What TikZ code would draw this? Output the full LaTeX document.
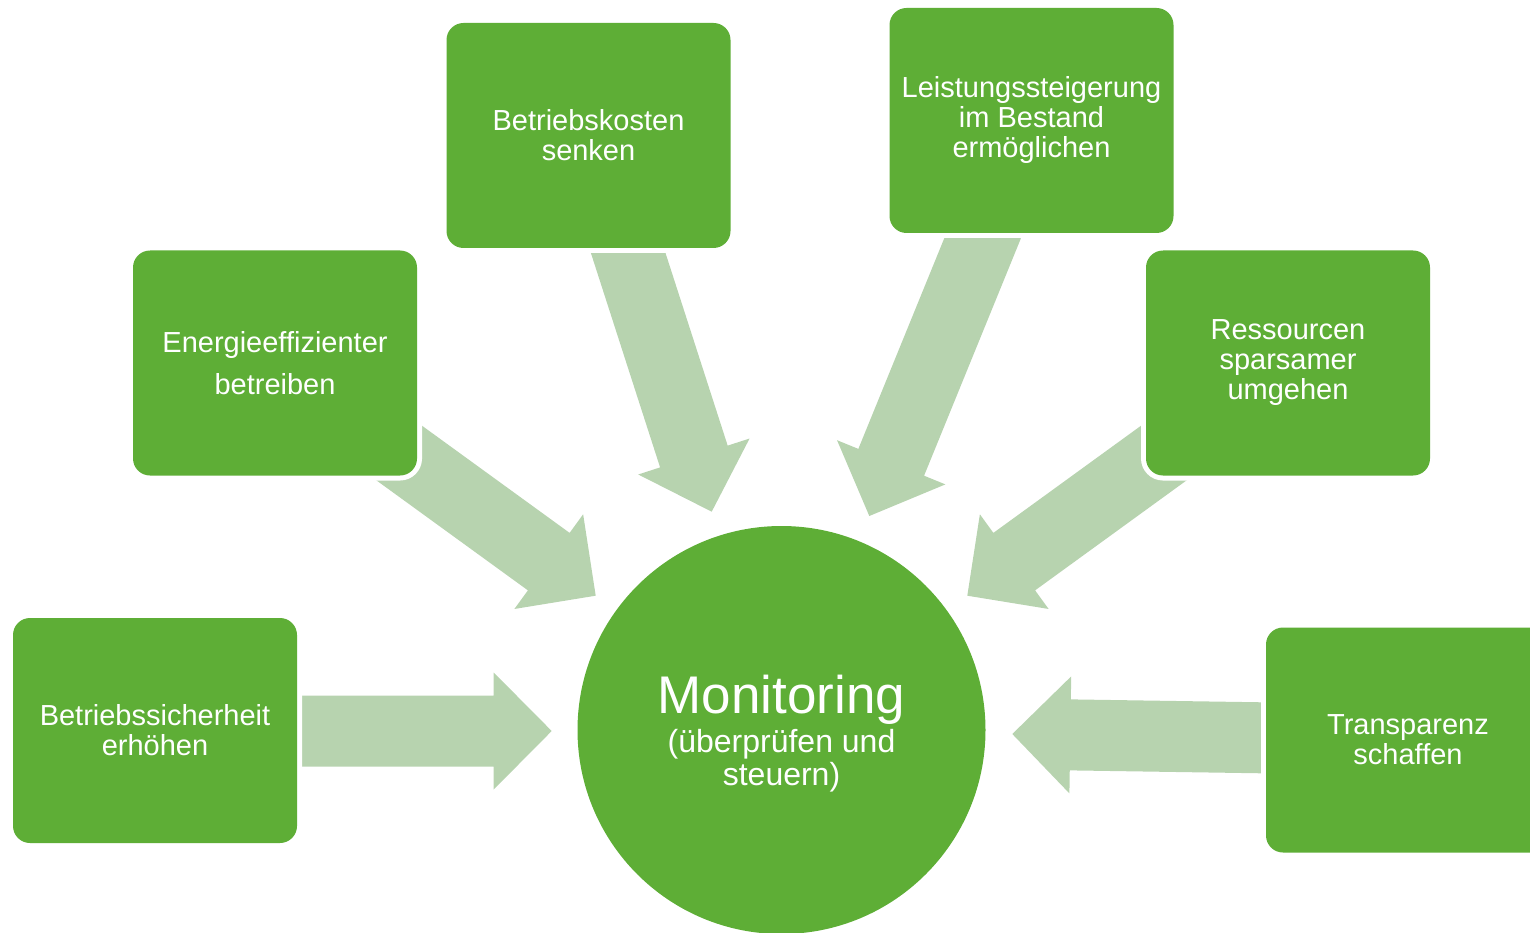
\documentclass[tikz,border=0pt]{standalone}
\usepackage{fontspec}
\setmainfont{Liberation Sans}
\usetikzlibrary{calc}
\definecolor{boxgreen}{HTML}{5EAE36}
\definecolor{arrowgreen}{HTML}{B7D3AF}
\newcommand{\blockarrow}[3]{%
  \coordinate (#1h) at ($(#3)!58pt!(#2)$);
  \fill[arrowgreen] ($(#2)!35.5pt!90:(#3)$) -- ($(#1h)!35.5pt!90:(#3)$) -- ($(#1h)!58.5pt!90:(#3)$) -- (#3) -- ($(#1h)!58.5pt!-90:(#3)$) -- ($(#1h)!35.5pt!-90:(#3)$) -- ($(#2)!35.5pt!-90:(#3)$) -- cycle;
}
\begin{document}
\begin{tikzpicture}[x=1pt,y=-1pt,
  goal/.style={fill=boxgreen, rounded corners=17pt, preaction={draw=white, line width=10pt},
    minimum width=284pt, minimum height=225pt, inner sep=0pt, text=white, align=center,
    font=\fontsize{29}{30}\selectfont},
  montext/.style={anchor=base, text=white, inner sep=0pt}]
\useasboundingbox (0,0) rectangle (1530,933);

% arrow end points
\coordinate (aT) at (384,442);   \coordinate (aP) at (595.7,595.7);
\coordinate (bT) at (624,240);   \coordinate (bP) at (711.7,511.7);
\coordinate (cT) at (988,225);   \coordinate (cP) at (869.3,516);
\coordinate (dT) at (1179,442);  \coordinate (dP) at (967.3,595.7);
\coordinate (eT) at (290,731);   \coordinate (eP) at (551.7,731);
\coordinate (fT) at (1275,738);  \coordinate (fP) at (1012.3,734);

\blockarrow{a}{aT}{aP}
\blockarrow{b}{bT}{bP}
\blockarrow{c}{cT}{cP}
\blockarrow{d}{dT}{dP}
\blockarrow{e}{eT}{eP}
\blockarrow{f}{fT}{fP}

% goal boxes
\node[goal] (bk) at (588.5,135.5) {Betriebskosten\\senken};
\node[goal] (ls) at (1031.5,120.5) {Leistungssteigerung\\im Bestand\\ermöglichen};
\node[goal] (ee) at (275,363) {Energieeffizienter\\[12pt]betreiben};
\node[goal] (rs) at (1288,363) {Ressourcen\\sparsamer\\umgehen};
\node[goal] (bs) at (155,730.5) {Betriebssicherheit\\erhöhen};
\node[goal] (tp) at (1408,740) {Transparenz\\schaffen};

% central circle
\node[circle, fill=boxgreen, minimum size=408pt, inner sep=0pt] (mon) at (781.5,730) {};
\node[montext, font=\fontsize{53}{60}\selectfont] (mont) at (781.5,713) {Monitoring};
\node[montext, font=\fontsize{32}{33}\selectfont] (mons1) at (781.5,752) {(überprüfen und};
\node[montext, font=\fontsize{32}{33}\selectfont] (mons2) at (781.5,785) {steuern)};
\end{tikzpicture}
\end{document}
